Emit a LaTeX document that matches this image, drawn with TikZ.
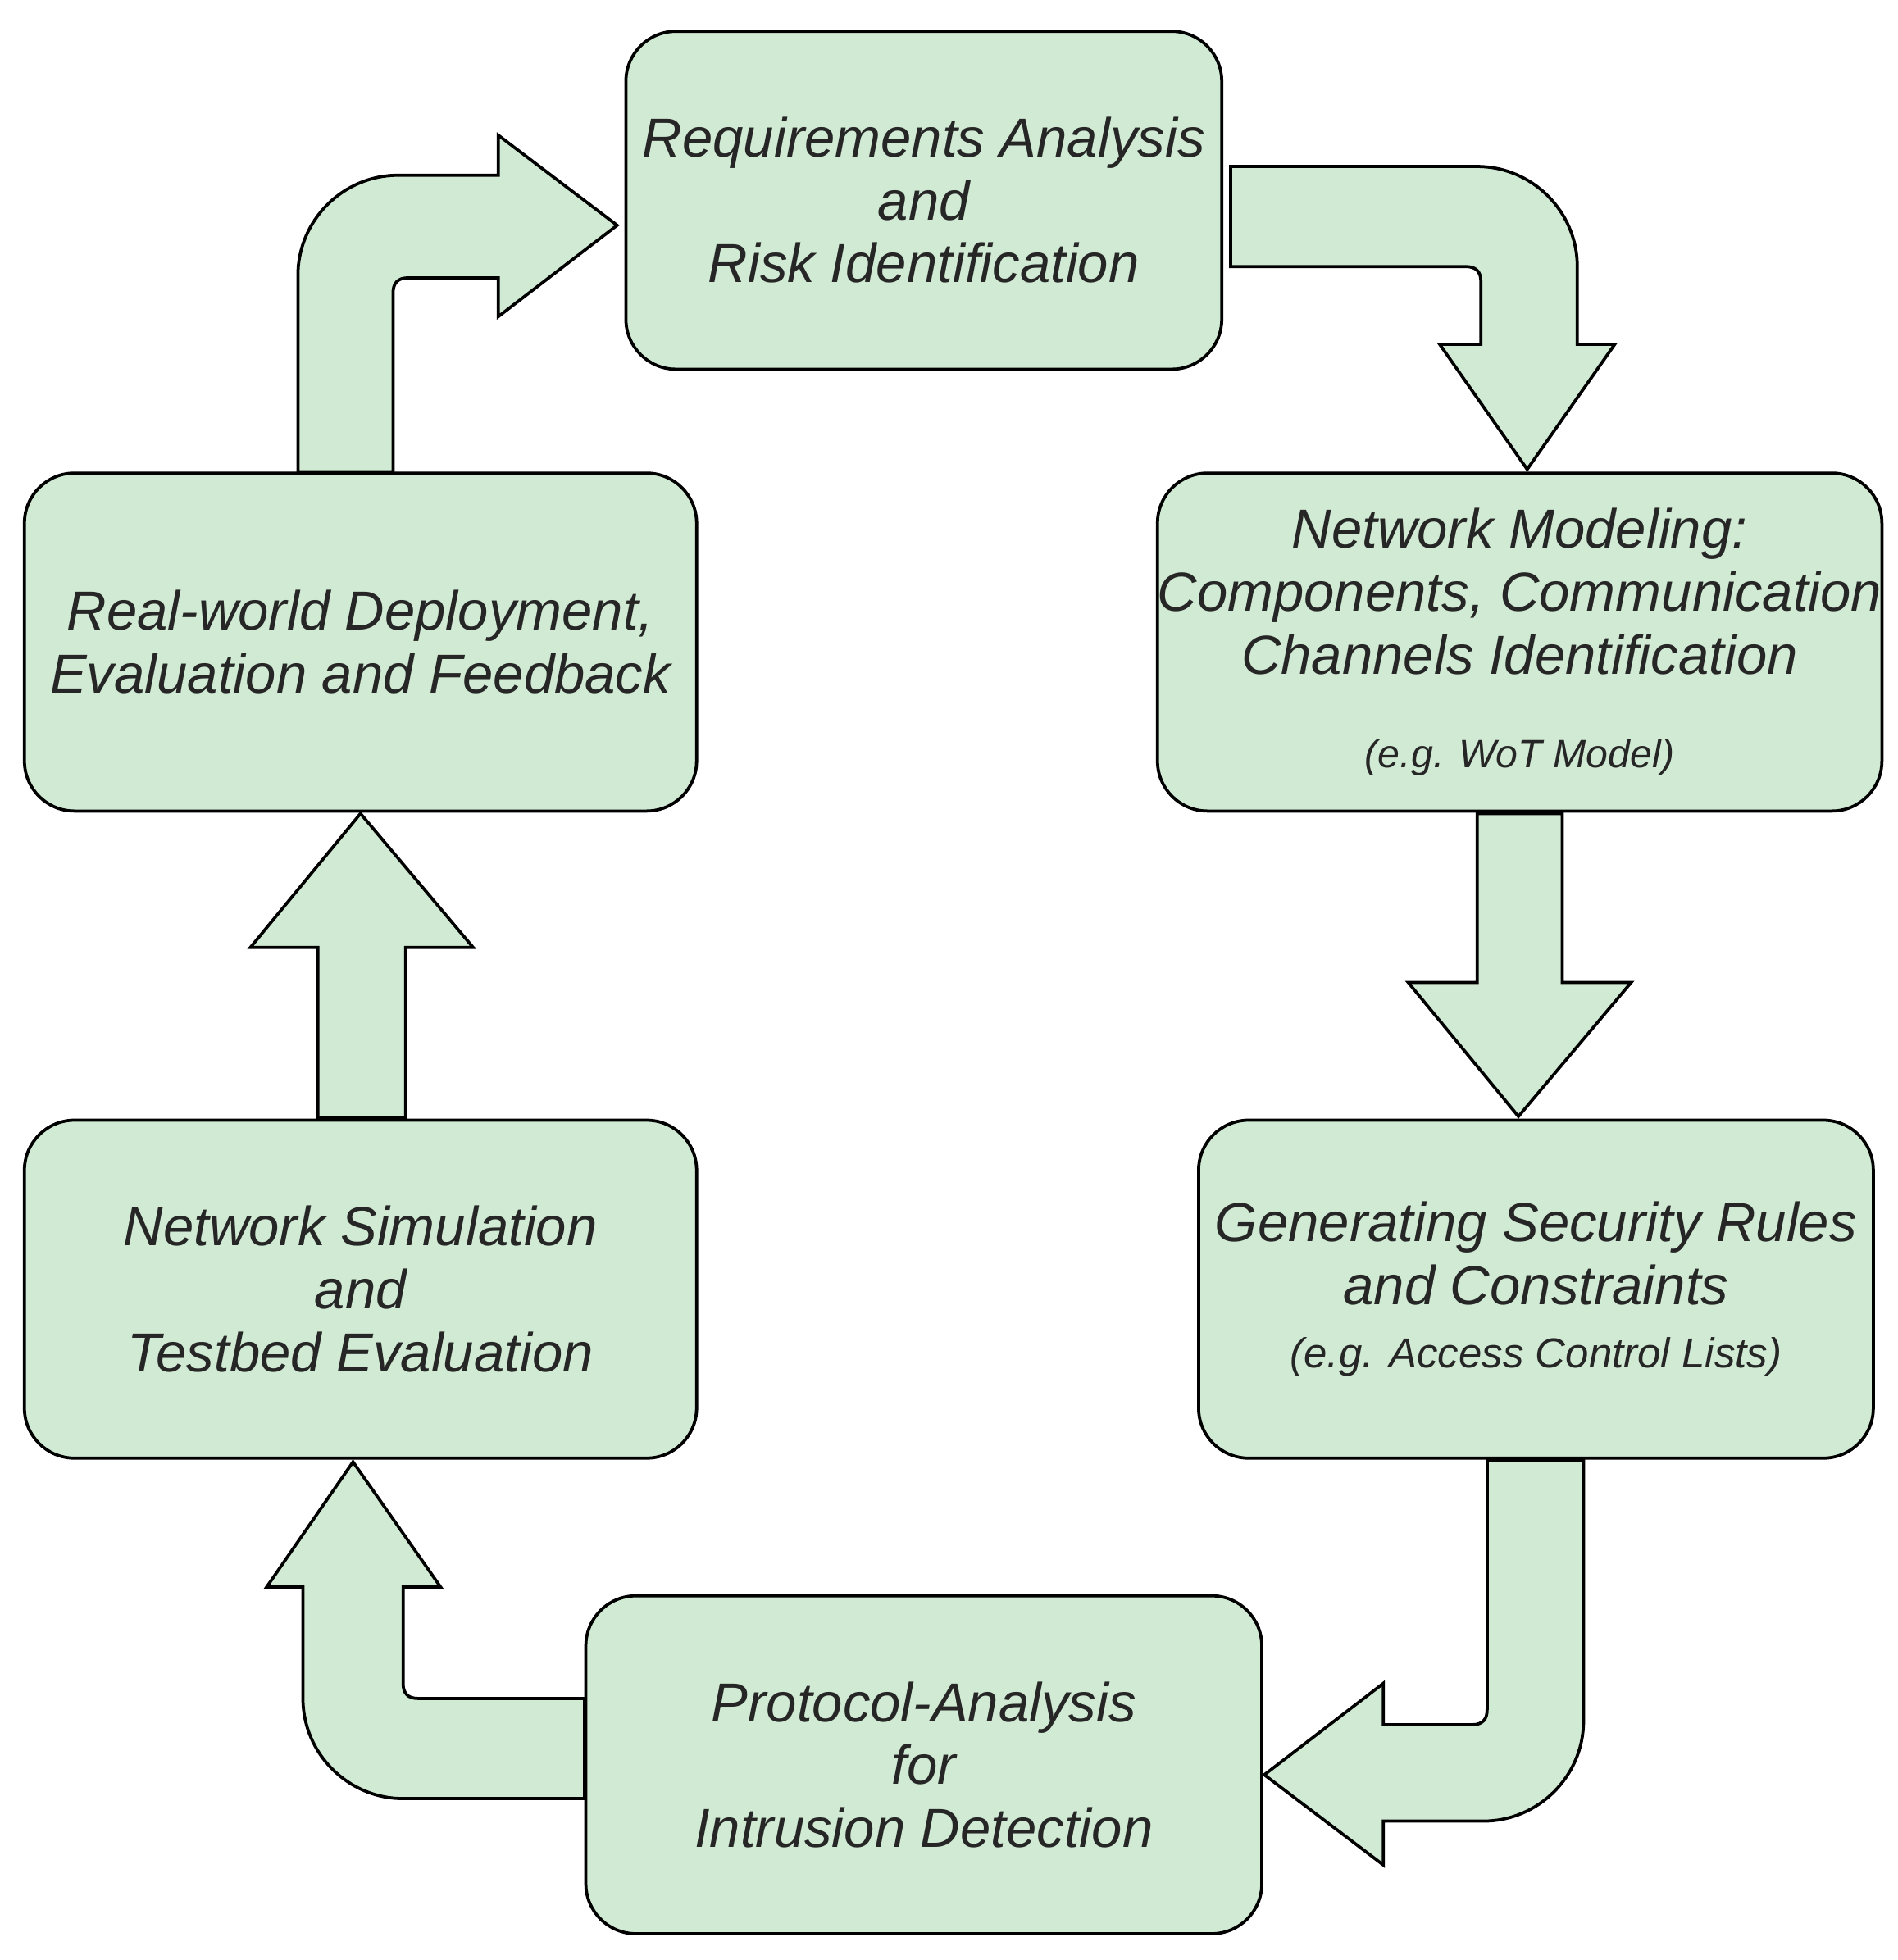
\documentclass[tikz,border=0pt]{standalone}
\usepackage{fontspec}
\setmainfont{Liberation Sans}
\begin{document}
\begin{tikzpicture}[x=0.1mm,y=-0.1mm,
  box/.style={draw=black,line width=0.7pt,fill=boxgreen,rounded corners=4mm,inner sep=0pt,align=center,font=\fontsize{12.5}{14.3}\selectfont\itshape,text=black!85},
  arr/.style={draw=black,line width=0.7pt,fill=boxgreen,line join=miter},
  small/.style={font=\fontsize{9}{11}\selectfont\itshape}]
\definecolor{boxgreen}{HTML}{D0EAD3}
\useasboundingbox (0,0) rectangle (1516,1566);
% boxes
\node[box,minimum width=47.6mm,minimum height=27mm] (A) at (738,160) {Requirements Analysis\\and\\Risk Identification};
\node[box,minimum width=56.5mm,minimum height=27mm] (B) at (1214,513) {Network Modeling:\\Components, Communication\\Channels Identification\\[7pt]{\fontsize{9}{11}\selectfont (e.g. WoT Model)}};
\node[box,minimum width=53.9mm,minimum height=27mm] (C) at (1227,1030) {Generating Security Rules\\and Constraints\\{\fontsize{9.5}{11}\selectfont (e.g. Access Control Lists)}};
\node[box,minimum width=54mm,minimum height=27mm] (D) at (738,1410) {Protocol-Analysis\\for\\Intrusion Detection};
\node[box,minimum width=53.7mm,minimum height=27mm] (E) at (288,1030) {Network Simulation\\and\\Testbed Evaluation};
\node[box,minimum width=53.7mm,minimum height=27mm] (F) at (288,513) {Real-world Deployment,\\Evaluation and Feedback};
% arrow A->B
\draw[arr] (983,133) -- (1180,133) .. controls (1224,133) and (1260,169) .. (1260,213)
  -- (1260,275) -- (1290,275) -- (1220,375) -- (1150,275) -- (1183,275) -- (1183,225)
  .. controls (1183,217) and (1179,213) .. (1171,213) -- (983,213) -- cycle;
% arrow B->C
\draw[arr] (1180,650) -- (1248,650) -- (1248,785) -- (1303,785) -- (1213,892) -- (1125,785) -- (1180,785) -- cycle;
% arrow C->D
\draw[arr] (1188,1167) -- (1265,1167) -- (1265,1375) .. controls (1265,1419) and (1229,1455) .. (1185,1455)
  -- (1105,1455) -- (1105,1490) -- (1010,1418) -- (1105,1345) -- (1105,1378) -- (1176,1378)
  .. controls (1184,1378) and (1188,1374) .. (1188,1366) -- cycle;
% arrow D->E
\draw[arr] (467,1357) -- (334,1357) .. controls (326,1357) and (322,1353) .. (322,1345)
  -- (322,1268) -- (352,1268) -- (282,1168) -- (213,1268) -- (242,1268) -- (242,1357)
  .. controls (242,1401) and (278,1437) .. (322,1437) -- (467,1437) -- cycle;
% arrow E->F
\draw[arr] (254,893) -- (254,757) -- (200,757) -- (288,650) -- (378,757) -- (324,757) -- (324,893) -- cycle;
% arrow F->A
\draw[arr] (238,377) -- (238,220) .. controls (238,176) and (274,140) .. (318,140)
  -- (398,140) -- (398,108) -- (493,180) -- (398,253) -- (398,222) -- (326,222)
  .. controls (318,222) and (314,226) .. (314,234) -- (314,377) -- cycle;
\end{tikzpicture}
\end{document}
